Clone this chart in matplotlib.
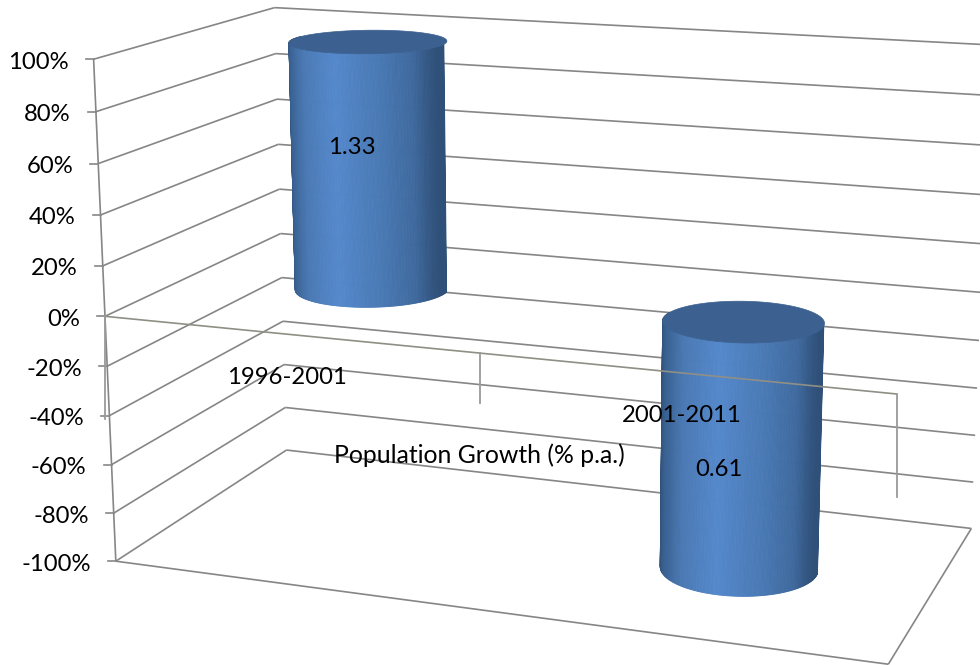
import numpy as np
import matplotlib
matplotlib.use("Agg")
import matplotlib.pyplot as plt
from matplotlib.colors import LinearSegmentedColormap
from matplotlib.patches import Polygon

# Chart data
categories = ["1996-2001", "2001-2011"]
series_name = "Population Growth (% p.a.)"
data_labels = ["1.33", "0.61"]
cyl_low = [0, -100]
cyl_high = [100, 0]
ticks = [100, 80, 60, 40, 20, 0, -20, -40, -60, -80, -100]

GRID = "#868686"
FONT = "Lato"
FS = 17.2

# Box corners as (x, value, depth) and where they land in the picture.
# The camera is fitted from these so all the chart geometry goes through it.
world = np.array([
    (0, 100, 0), (0, 0, 0), (0, -100, 0),
    (0, 100, 1), (0, 0, 1), (0, -100, 1),
    (1, 100, 1), (1, 0, 1), (1, -100, 1),
    (1, 0, 0), (1, -100, 0),
], dtype=float)
screen = np.array([
    (93, 60), (105, 316), (116, 561),
    (275, 7), (281, 234), (286, 450),
    (991, 45), (981, 292), (971, 529),
    (897, 394), (889, 664),
], dtype=float)


def fit_camera(world, screen):
    rows = []
    for (x, v, z), (u, w) in zip(world, screen):
        p = [x, v / 100, z, 1]
        rows.append(p + [0, 0, 0, 0] + [-u * c for c in p])
        rows.append([0, 0, 0, 0] + p + [-w * c for c in p])
    return np.linalg.svd(np.array(rows))[2][-1].reshape(3, 4)


cam = fit_camera(world, screen)


def project(x, v, z):
    x, v, z = np.broadcast_arrays(np.asarray(x, float), np.asarray(v, float), np.asarray(z, float))
    q = cam @ np.stack([x, v / 100, z, np.ones_like(x)])
    return q[0] / q[2], q[1] / q[2]


def line3d(ax, a, b, **kw):
    xs, ys = project([a[0], b[0]], [a[1], b[1]], [a[2], b[2]])
    ax.plot(xs, ys, color=kw.pop("color", GRID), lw=kw.pop("lw", 1.2), solid_capstyle="butt", **kw)


fig = plt.figure(figsize=(9.8, 6.65), dpi=100)
ax = fig.add_axes([0, 0, 1, 1])
ax.set_xlim(0, 980)
ax.set_ylim(665, 0)
ax.axis("off")

# Walls and floor
for t in ticks:
    line3d(ax, (0, t, 0), (0, t, 1), zorder=1)
    line3d(ax, (0, t, 1), (1, t, 1), zorder=1)
    fx, fy = project(0, t, 0)
    ax.plot([fx - 8, fx], [fy, fy], color=GRID, lw=1.2, zorder=1)
    ax.text(fx - 25, fy + 3, f"{t}%", ha="right", va="center", family=FONT, fontsize=FS, color="black")
line3d(ax, (0, 100, 0), (0, -100, 0), zorder=1)
line3d(ax, (0, -100, 0), (1, -100, 0), zorder=1)
line3d(ax, (1, -100, 0), (1, -100, 1), zorder=1)

# Cylinders
shade = LinearSegmentedColormap.from_list("cyl", [
    (0, "#2f5078"), (0.08, "#3f6a9f"), (0.25, "#4a7ab5"), (0.5, "#5488cc"),
    (0.75, "#4a78b2"), (0.9, "#3a6292"), (1, "#2c4a70"),
])
centers = [0.2525, 0.752]
rx, rz = 0.0995, 0.205

for xc, low, high in zip(centers, cyl_low, cyl_high):
    t = np.linspace(-0.12, np.pi + 0.12, 161)
    x = xc + rx * np.cos(t)
    z = 0.5 - rz * np.sin(t)
    tx, ty = project(x, high, z)
    bx, by = project(x, low, z)
    # outermost strips first, they fold back behind the silhouette
    order = np.argsort(-np.abs(t[:-1] - np.pi / 2 + 0.5 * (t[1] - t[0])))
    for i in order:
        u = np.clip((1 - np.cos((t[i] + t[i + 1]) / 2)) / 2, 0, 1)
        col = shade(u)
        ax.add_patch(Polygon([(tx[i], ty[i]), (tx[i + 1], ty[i + 1]), (bx[i + 1], by[i + 1]), (bx[i], by[i])],
                             facecolor=col, edgecolor=col, lw=0.6, zorder=3))
    a = np.linspace(0, 2 * np.pi, 200)
    ex, ey = project(xc + rx * np.cos(a), high, 0.5 - rz * np.sin(a))
    ax.add_patch(Polygon(np.column_stack([ex, ey]), facecolor="#3c6090", edgecolor="#3c6090", lw=0.5, zorder=4))

# Category axis sits at 0% and runs over the second cylinder
line3d(ax, (0, 0, 0), (1, 0, 0), zorder=5, color="#8f8f86", lw=1.2)
for xt, drop in zip([0, 0.5, 1], [103, 50, 103]):
    px, py = project(xt, 0, 0)
    ax.plot([px, px], [py, py + drop], color="#9a9a9a", lw=1.3, zorder=5)

# Text
ax.text(287, 377, categories[0], ha="center", va="center", family=FONT, fontsize=FS, zorder=6)
ax.text(682, 415, categories[1], ha="center", va="center", family=FONT, fontsize=FS, zorder=6)
ax.text(479, 455, series_name, ha="center", va="center", family=FONT, fontsize=17.8, zorder=6)
ax.text(352, 148, data_labels[0], ha="center", va="center", family=FONT, fontsize=FS, zorder=6)
ax.text(719, 469, data_labels[1], ha="center", va="center", family=FONT, fontsize=FS, zorder=6)

fig.savefig("out.png", dpi=100)
